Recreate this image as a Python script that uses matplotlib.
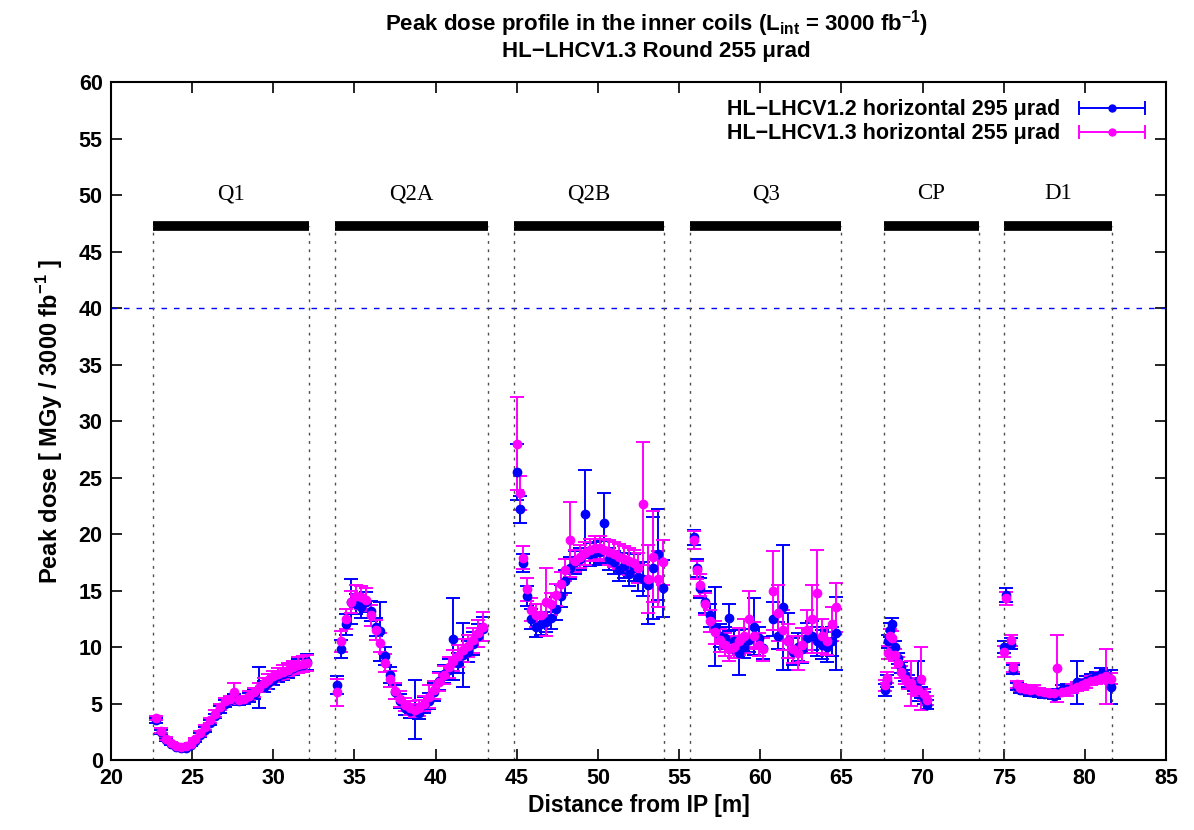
import matplotlib
matplotlib.use("Agg")
import matplotlib.pyplot as plt
import numpy as np
from matplotlib.legend_handler import HandlerErrorbar

# magnet layout (start, end) in m
magnet_names = ["Q1", "Q2A", "Q2B", "Q3", "CP", "D1"]
magnet_start = [22.6, 33.8, 44.8, 55.7, 67.6, 75.0]
magnet_end = [32.2, 43.2, 54.1, 65.0, 73.5, 81.7]
dose_limit = 40

# ---- shared x grids per magnet [m]
x_q1 = [22.8, 23.1, 23.4, 23.7, 24.0, 24.3, 24.6, 24.9, 25.2, 25.5, 25.8, 26.1,
        26.4, 26.7, 27.0, 27.3, 27.6, 27.9, 28.2, 28.5, 28.8, 29.1, 29.4, 29.7,
        30.0, 30.3, 30.6, 30.9, 31.2, 31.5, 31.8, 32.1]
x_q2a = [33.9, 34.2, 34.5, 34.8, 35.1, 35.4, 35.7, 36.0, 36.3, 36.6, 36.9, 37.2,
         37.5, 37.8, 38.1, 38.4, 38.7, 39.0, 39.3, 39.6, 39.9, 40.2, 40.5, 40.8,
         41.1, 41.4, 41.7, 42.0, 42.3, 42.6, 42.9]
x_q2b = [45.0, 45.2, 45.4, 45.6, 45.9, 46.2, 46.5, 46.8, 47.1, 47.4, 47.7, 48.0,
         48.3, 48.6, 48.9, 49.2, 49.5, 49.8, 50.1, 50.4, 50.7, 51.0, 51.3, 51.6,
         51.9, 52.2, 52.5, 52.8, 53.1, 53.4, 53.7, 54.0]
x_q3 = [55.9, 56.1, 56.3, 56.6, 56.9, 57.2, 57.5, 57.8, 58.1, 58.4, 58.7, 59.0,
        59.3, 59.6, 59.9, 60.2, 60.8, 61.1, 61.4, 61.7, 62.0, 62.3, 62.6, 62.9,
        63.2, 63.5, 63.8, 64.1, 64.4, 64.7]
x_cp = [67.7, 67.8, 67.9, 68.0, 68.1, 68.3, 68.5, 68.7, 68.9, 69.1, 69.3, 69.5,
        69.7, 69.9, 70.1, 70.3]
x_d1 = [75.05, 75.15, 75.45, 75.6, 75.8, 76.0, 76.3, 76.6, 76.9, 77.2, 77.5, 77.8,
        78.1, 78.3, 78.6, 78.9, 79.2, 79.5, 79.8, 80.1, 80.4, 80.7, 81.0, 81.3, 81.6]

# ---- HL-LHCV1.2 horizontal 295 urad (blue)
v12_q1 = [3.5, 2.5, 1.8, 1.4, 1.15, 1.05, 1.1, 1.3, 1.7, 2.2, 2.7, 3.3,
          3.9, 4.5, 5.0, 5.3, 5.5, 5.2, 5.3, 5.5, 5.8, 6.4, 6.5, 6.8,
          7.1, 7.4, 7.6, 7.9, 8.1, 8.3, 8.4, 8.7]
e12_q1 = [0.2, 0.2, 0.1, 0.1, 0.1, 0.1, 0.1, 0.1, 0.1, 0.2, 0.2, 0.2,
          0.2, 0.3, 0.3, 0.3, 0.3, 0.3, 0.3, 0.4, 0.4, 1.8, 0.5, 0.5,
          0.5, 0.5, 0.5, 0.6, 0.6, 0.6, 0.6, 0.7]
v12_q2a = [6.6, 9.8, 12.0, 14.0, 13.8, 13.5, 14.0, 13.2, 11.8, 11.4, 9.2, 7.5,
           6.0, 5.2, 4.6, 4.3, 4.5, 4.2, 4.9, 5.2, 6.0, 7.0, 7.6, 8.0,
           10.7, 8.6, 9.3, 9.6, 10.3, 11.0, 11.6]
e12_q2a = [0.8, 0.8, 0.9, 2.0, 0.9, 0.9, 0.9, 0.9, 0.8, 2.6, 0.8, 0.7,
           0.6, 0.6, 0.6, 0.6, 2.6, 0.6, 0.7, 0.7, 0.8, 0.8, 0.8, 0.9,
           3.6, 0.9, 2.8, 0.9, 1.0, 1.0, 1.1]
v12_q2b = [25.5, 22.2, 17.4, 14.5, 12.5, 11.8, 12.0, 12.2, 12.6, 13.4, 14.5, 15.8,
           17.0, 17.5, 17.8, 21.8, 18.2, 18.3, 18.4, 21.0, 17.8, 17.5, 16.8, 17.2,
           16.5, 17.0, 16.2, 16.0, 15.5, 17.0, 18.2, 15.2]
e12_q2b = [2.5, 1.2, 0.8, 0.9, 0.9, 0.9, 0.9, 0.9, 1.0, 1.0, 1.0, 1.0,
           1.0, 1.0, 1.0, 3.9, 1.0, 1.0, 1.0, 2.6, 1.0, 1.0, 1.0, 1.1,
           1.1, 1.2, 1.2, 1.5, 3.5, 4.5, 4.0, 2.5]
v12_q3 = [19.7, 17.0, 15.2, 14.0, 12.8, 11.8, 11.0, 10.8, 12.6, 10.5, 9.5, 10.0,
          10.6, 11.8, 10.8, 9.9, 12.5, 11.0, 13.5, 10.5, 9.6, 10.0, 9.8, 10.8,
          11.0, 10.5, 10.2, 10.0, 10.5, 11.2]
e12_q3 = [0.7, 0.8, 0.9, 1.0, 1.0, 3.5, 1.0, 1.0, 1.2, 1.0, 2.0, 1.0,
          1.0, 2.5, 1.0, 1.0, 1.5, 1.2, 5.5, 2.5, 1.2, 1.2, 1.2, 1.3,
          1.3, 1.3, 1.3, 1.3, 1.3, 3.2]
v12_cp = [6.2, 7.0, 10.5, 11.5, 12.0, 10.0, 9.0, 8.2, 7.5, 7.0, 6.8, 6.6,
          7.0, 6.0, 5.5, 4.9]
e12_cp = [0.5, 0.5, 0.6, 0.6, 0.6, 0.5, 0.5, 0.5, 0.5, 0.5, 0.5, 0.5,
          1.8, 0.5, 0.5, 0.4]
v12_d1 = [10.0, 14.6, 10.3, 8.0, 6.5, 6.2, 6.1, 6.0, 6.0, 5.9, 5.8, 5.8,
          5.7, 6.0, 6.2, 6.3, 6.3, 6.9, 6.8, 7.0, 7.2, 7.4, 7.6, 7.5, 6.5]
e12_d1 = [0.5, 0.6, 0.5, 0.4, 0.3, 0.3, 0.3, 0.3, 0.3, 0.3, 0.3, 0.3,
          0.3, 0.3, 0.4, 0.4, 0.4, 1.9, 0.4, 0.4, 0.4, 0.4, 0.5, 0.5, 1.5]

# ---- HL-LHCV1.3 horizontal 255 urad (magenta)
v13_q1 = [3.7, 2.6, 1.9, 1.5, 1.25, 1.15, 1.2, 1.45, 1.85, 2.35, 2.9, 3.5,
          4.1, 4.7, 5.2, 5.4, 6.0, 5.3, 5.4, 5.7, 6.0, 6.4, 6.8, 7.1,
          7.4, 7.6, 7.8, 8.0, 8.2, 8.4, 8.5, 8.6]
e13_q1 = [0.2, 0.2, 0.1, 0.1, 0.1, 0.1, 0.1, 0.1, 0.1, 0.2, 0.2, 0.2,
          0.3, 0.3, 0.3, 0.3, 0.8, 0.3, 0.3, 0.4, 0.4, 0.4, 0.5, 0.5,
          0.5, 0.5, 0.6, 0.6, 0.6, 0.7, 0.7, 0.7]
v13_q2a = [6.0, 10.5, 12.5, 14.0, 14.5, 14.4, 14.2, 12.8, 11.5, 10.4, 8.6, 7.2,
           6.1, 5.4, 4.9, 4.6, 4.4, 4.6, 5.0, 5.6, 6.2, 6.9, 7.5, 8.2,
           8.8, 9.2, 9.7, 10.1, 10.6, 11.2, 11.8]
e13_q2a = [1.2, 0.9, 0.9, 1.0, 1.0, 1.0, 1.0, 0.9, 0.9, 0.8, 0.8, 0.7,
           0.7, 0.7, 0.6, 0.6, 0.6, 0.7, 0.7, 1.0, 0.8, 0.8, 0.8, 0.9,
           0.9, 1.0, 1.0, 1.0, 1.1, 1.2, 1.3]
v13_q2b = [28.0, 23.6, 17.9, 15.1, 13.3, 12.8, 12.8, 14.0, 13.8, 14.6, 15.6, 16.8,
           19.5, 17.6, 18.0, 18.3, 18.6, 18.8, 18.8, 18.6, 18.4, 18.2, 18.0, 17.8,
           17.6, 17.4, 17.0, 22.7, 16.0, 18.0, 16.0, 17.5]
e13_q2b = [4.1, 1.5, 1.0, 1.0, 1.0, 1.0, 1.0, 3.0, 1.0, 1.0, 1.0, 1.0,
           3.3, 1.0, 1.0, 1.0, 1.0, 1.0, 1.0, 1.0, 1.1, 1.1, 1.1, 1.1,
           1.2, 1.2, 1.3, 5.4, 3.0, 4.0, 2.5, 2.0]
v13_q3 = [19.5, 16.8, 15.5, 13.8, 12.3, 11.3, 10.6, 10.2, 9.8, 10.0, 10.5, 11.0,
          12.5, 11.0, 10.2, 9.8, 15.0, 13.0, 11.5, 10.5, 9.8, 9.5, 10.2, 11.5,
          12.5, 14.8, 11.0, 10.5, 12.0, 13.5]
e13_q3 = [0.8, 0.8, 1.0, 1.0, 1.0, 1.0, 1.0, 1.0, 1.0, 1.0, 1.2, 1.5,
          2.5, 1.2, 1.0, 1.0, 3.5, 2.5, 1.8, 1.5, 1.2, 1.5, 1.5, 1.8,
          3.0, 3.8, 1.5, 1.2, 1.5, 2.2]
v13_cp = [6.6, 7.3, 9.5, 11.0, 10.8, 9.3, 8.6, 7.8, 7.2, 6.8, 6.8, 6.3,
          6.2, 7.2, 5.8, 5.3]
e13_cp = [0.5, 0.5, 0.6, 0.6, 0.6, 0.5, 0.5, 0.5, 0.5, 0.5, 2.0, 0.5,
          0.5, 2.8, 0.5, 0.4]
v13_d1 = [9.6, 14.3, 10.6, 8.2, 6.7, 6.4, 6.3, 6.2, 6.3, 6.1, 6.0, 5.9,
          5.9, 8.1, 6.0, 6.1, 6.3, 6.5, 6.6, 6.8, 7.0, 7.1, 7.3, 7.4, 7.2]
e13_d1 = [0.5, 0.6, 0.5, 0.4, 0.3, 0.3, 0.3, 0.3, 0.3, 0.3, 0.3, 0.3,
          0.3, 3.0, 0.3, 0.4, 0.4, 0.4, 0.4, 0.4, 0.4, 0.4, 0.5, 2.4, 0.5]

x_all = x_q1 + x_q2a + x_q2b + x_q3 + x_cp + x_d1
y_v12 = v12_q1 + v12_q2a + v12_q2b + v12_q3 + v12_cp + v12_d1
err_v12 = e12_q1 + e12_q2a + e12_q2b + e12_q3 + e12_cp + e12_d1
y_v13 = v13_q1 + v13_q2a + v13_q2b + v13_q3 + v13_cp + v13_d1
err_v13 = e13_q1 + e13_q2a + e13_q2b + e13_q3 + e13_cp + e13_d1

labels = ["HL\u2212LHCV1.2 horizontal 295 \u03bcrad",
          "HL\u2212LHCV1.3 horizontal 255 \u03bcrad"]
colors = ["#0000ff", "#ff00ff"]

plt.rcParams["font.family"] = ["Liberation Sans", "DejaVu Sans"]
plt.rcParams["mathtext.fontset"] = "custom"
plt.rcParams["mathtext.rm"] = "Liberation Sans"
plt.rcParams["mathtext.bf"] = "Liberation Sans:bold"

fig = plt.figure(figsize=(11.94, 8.30), dpi=100)
ax = fig.add_axes([0.093, 0.0843, 0.8835, 0.8169])

eb = dict(fmt="o", ms=6, lw=1.4, capsize=5, capthick=1.4, elinewidth=1.4)
ax.errorbar(x_all, y_v12, yerr=err_v12, color=colors[0], **eb)
ax.errorbar(x_all, y_v13, yerr=err_v13, color=colors[1], **eb)

# legend proxies: gnuplot style horizontal error bar
proxies = [ax.errorbar([np.nan], [np.nan], xerr=[1], color=c, fmt="o", ms=5,
                       lw=1.4, capsize=5, capthick=1.4) for c in colors]

# dose limit
ax.axhline(dose_limit, color="#0000ff", lw=1, ls=(0, (4, 5)))

# magnets: bars, dotted boundaries, names
bar_y = 47.3
for name, s, e in zip(magnet_names, magnet_start, magnet_end):
    ax.plot([s, e], [bar_y, bar_y], color="black", lw=7, solid_capstyle="butt")
    for xv in (s, e):
        ax.plot([xv, xv], [0, bar_y], color="0.3", lw=1, ls=(0, (2, 4)))
    ax.text((s + e) / 2, 49.2, name, ha="center", va="bottom", fontsize=16.5,
            family=["Liberation Serif", "DejaVu Serif"])

ax.set_xlim(20, 85)
ax.set_ylim(0, 60)
ax.set_xticks(range(20, 86, 5))
ax.set_yticks(range(0, 61, 5))
ax.tick_params(direction="in", length=8, width=1.2, top=True, right=True,
               labelsize=15.5, pad=6)
for lab in ax.get_xticklabels() + ax.get_yticklabels():
    lab.set_fontweight("bold")
for sp in ax.spines.values():
    sp.set_linewidth(1.5)

ax.set_xlabel("Distance from IP [m]", fontsize=16.5, fontweight="bold", labelpad=3)
ax.set_ylabel("Peak dose [ MGy / 3000 fb$^{\\mathbf{-1}}$ ]", fontsize=17,
              fontweight="bold", labelpad=10)

tfam = ["Liberation Sans Narrow", "Liberation Sans", "DejaVu Sans"]
fig.text(0.55, 0.99,
         "Peak dose profile in the inner coils (L$_{\\mathbf{int}}$ = 3000 fb$^{\\mathbf{-1}}$)",
         ha="center", va="top", fontsize=16, fontweight="bold", family=tfam)
fig.text(0.55, 0.951, "HL\u2212LHCV1.3 Round 255 \u03bcrad", ha="center",
         va="top", fontsize=16, fontweight="bold", family=tfam)

ax.legend(proxies, labels, loc="upper right", frameon=False, markerfirst=False,
          prop={"weight": "bold", "size": 15.5}, handlelength=3.4, numpoints=1,
          handler_map={type(proxies[0]): HandlerErrorbar(xerr_size=1.55)},
          borderaxespad=0.4, labelspacing=0.15, handletextpad=0.7)

fig.savefig("out.png", dpi=100)
